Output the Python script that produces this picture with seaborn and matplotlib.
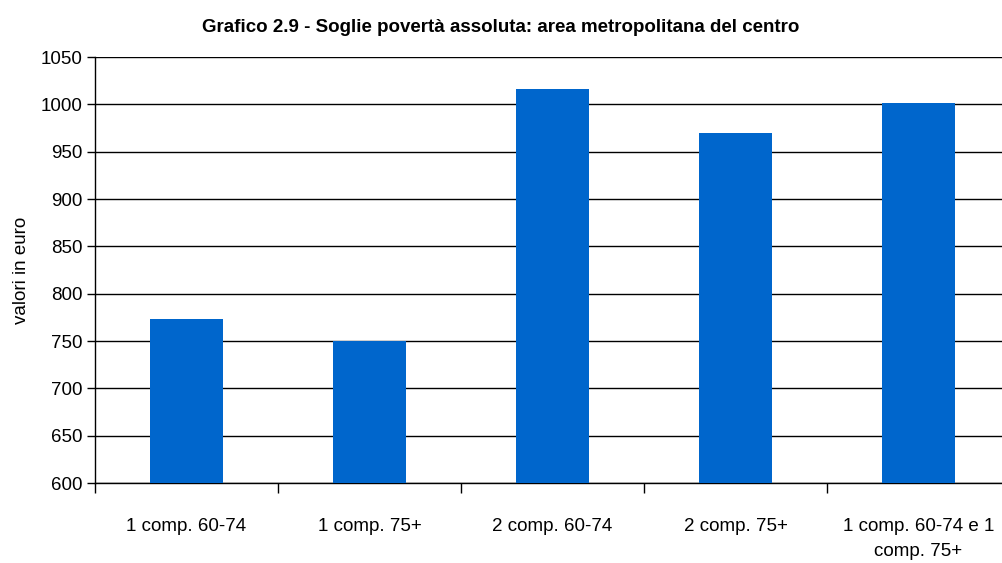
import matplotlib
matplotlib.use("Agg")
import pandas as pd
from matplotlib import pyplot as plt
from matplotlib.ticker import FixedLocator
import seaborn as sns

categories = ["1 comp. 60-74", "1 comp. 75+", "2 comp. 60-74", "2 comp. 75+",
              "1 comp. 60-74 e 1\ncomp. 75+"]
values = [773, 750, 1016, 970, 1001]
yticks = list(range(600, 1051, 50))

TITLE = "Grafico 2.9 - Soglie povertà assoluta: area metropolitana del centro"
FONT = ["Liberation Sans Narrow", "Liberation Sans", "DejaVu Sans"]


def main():
    sns.set_theme(style="white")
    plt.rcParams["font.family"] = FONT

    df = pd.DataFrame({"Categoria": categories, "Valore": values})

    fig = plt.figure(figsize=(10.02, 5.63), dpi=100)
    ax = fig.add_axes([95 / 1002, 1 - 483 / 563, 915 / 1002, (483 - 57) / 563])

    sns.barplot(data=df, x="Categoria", y="Valore", order=categories,
                color="#0066CC", saturation=1, width=0.4, linewidth=0, ax=ax, zorder=3)

    ax.set_ylim(600, 1050)
    ax.set_xlim(-0.5, 4.5)
    ax.set_yticks(yticks)
    ax.yaxis.grid(True, color="black", linewidth=1.0, zorder=0)
    ax.set_axisbelow(True)

    ax.set_xticks(range(len(categories)))
    ax.set_xticklabels(categories, linespacing=1.6)
    ax.xaxis.set_minor_locator(FixedLocator([i - 0.5 for i in range(len(categories) + 1)]))
    ax.tick_params(axis="x", which="major", length=0, pad=25, labelsize=13.5, colors="black")
    ax.tick_params(axis="x", which="minor", length=7, width=1, color="black", direction="out", bottom=True)
    ax.tick_params(axis="y", length=6, width=1, color="black", direction="out", left=True,
                   labelsize=13.5, pad=3, labelcolor="black")

    ax.set_xlabel("")
    ax.set_ylabel("valori in euro", fontsize=13.5, color="black", labelpad=8)

    for side in ["top", "right"]:
        ax.spines[side].set_visible(False)
    for side in ["left", "bottom"]:
        ax.spines[side].set_color("black")
        ax.spines[side].set_linewidth(1.0)

    fig.text(0.5, 1 - 28 / 563, TITLE, ha="center", va="center",
             fontsize=13.5, fontweight="bold", color="black")

    fig.savefig("out.png", dpi=100)


if __name__ == "__main__":
    main()
